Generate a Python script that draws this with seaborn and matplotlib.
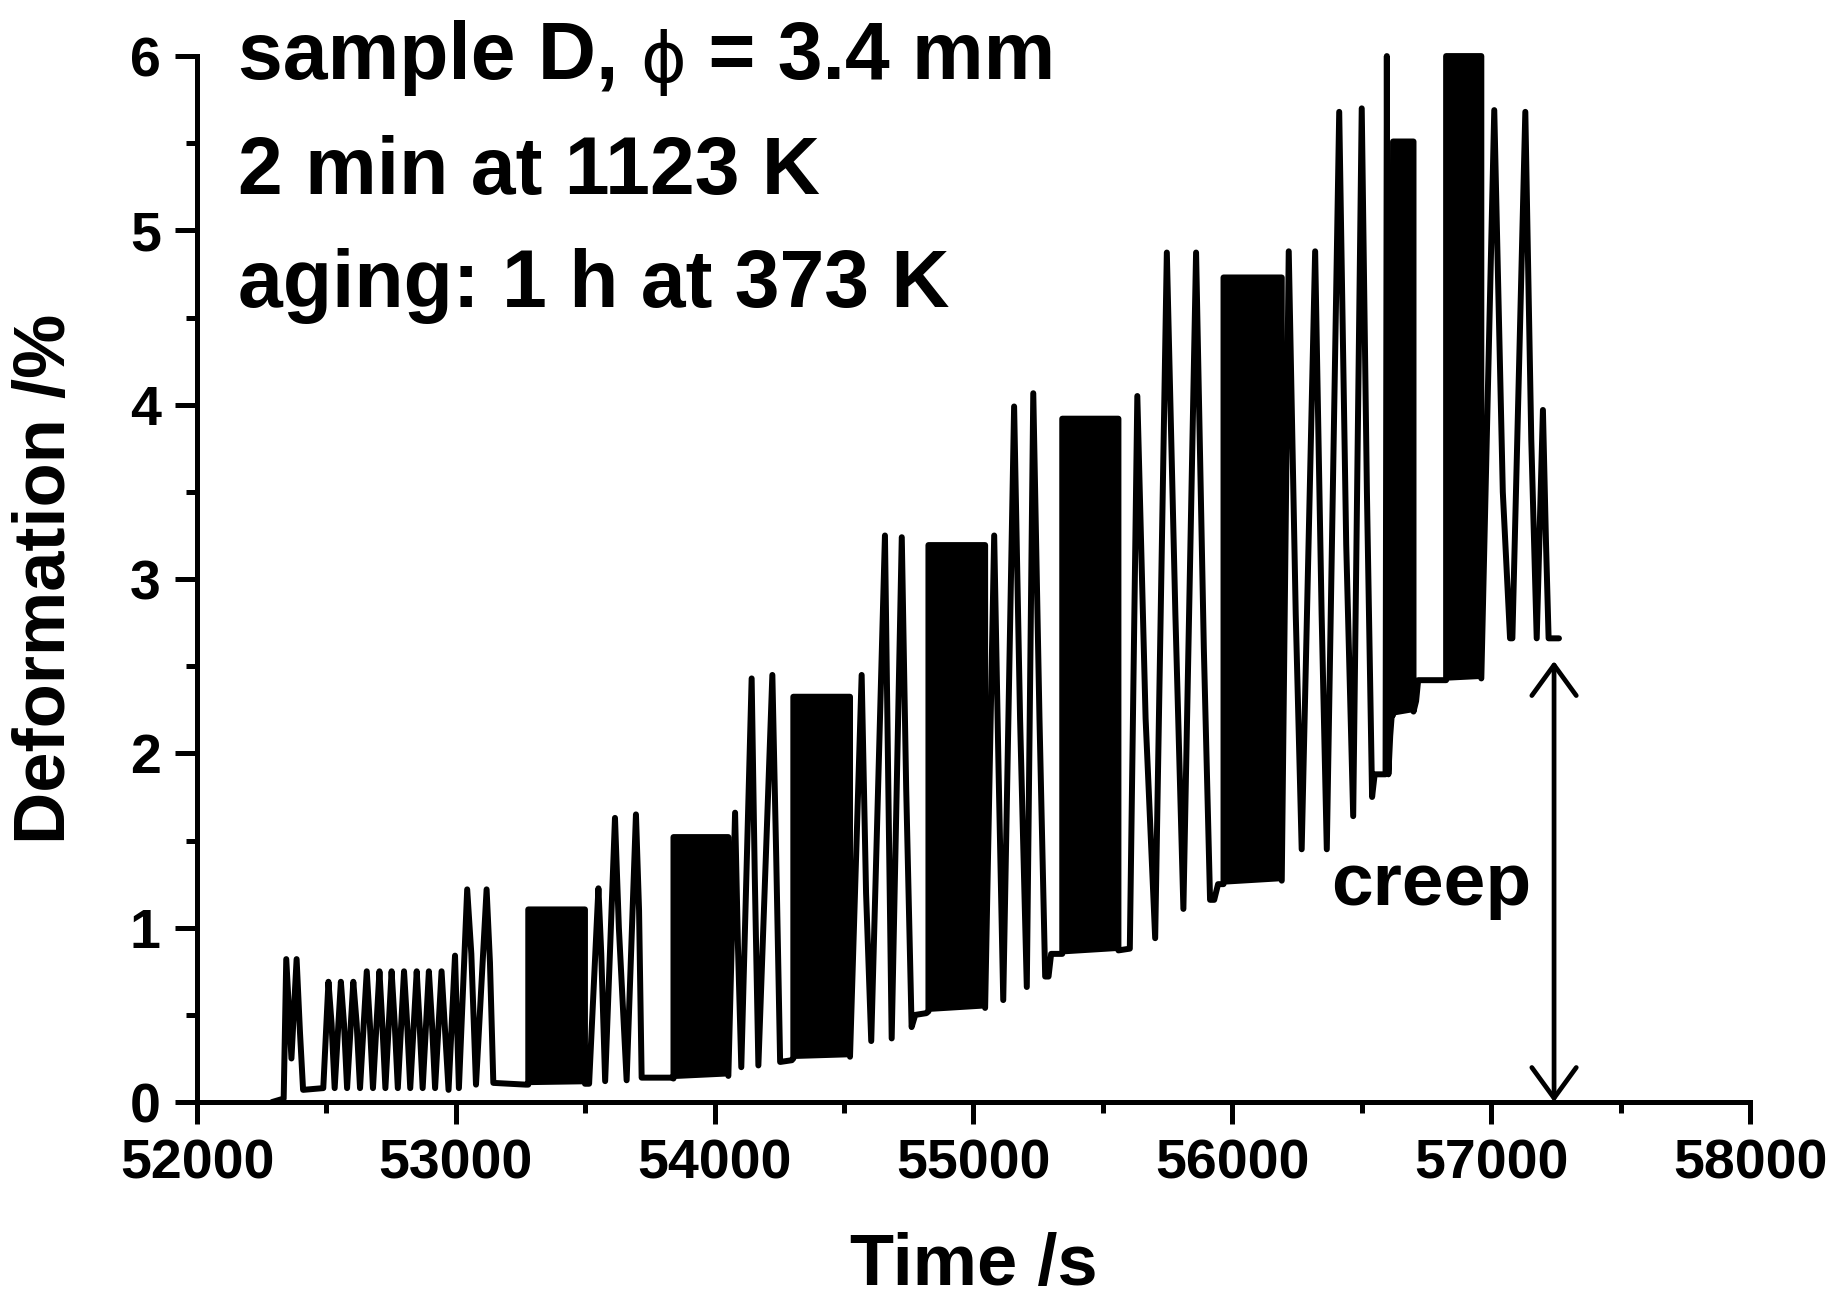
import numpy as np
import pandas as pd
import matplotlib
matplotlib.use("Agg")
import matplotlib.pyplot as plt
import seaborn as sns
from matplotlib.ticker import MultipleLocator

# ---- sparse parts of the deformation trace (time /s, deformation /%) ----
seg0_t = [52290, 52335, 52345, 52365, 52385, 52398, 52410, 52488,
          52508, 52520, 52532, 52556, 52568, 52580, 52604, 52617, 52630,
          52656, 52668, 52680, 52705, 52716, 52728, 52752, 52764, 52776,
          52800, 52812, 52824, 52849, 52860, 52872, 52896, 52908, 52920,
          52945, 52957, 52972, 52997, 53012, 53044, 53060, 53078, 53119,
          53132, 53145, 53270]
seg0_v = [0.00, 0.02, 0.82, 0.25, 0.82, 0.40, 0.07, 0.08,
          0.69, 0.45, 0.08, 0.69, 0.45, 0.08, 0.69, 0.45, 0.08,
          0.75, 0.45, 0.08, 0.75, 0.45, 0.08, 0.75, 0.45, 0.08,
          0.75, 0.45, 0.08, 0.75, 0.45, 0.08, 0.75, 0.45, 0.08,
          0.75, 0.45, 0.07, 0.84, 0.08, 1.22, 0.85, 0.10, 1.22,
          0.80, 0.11, 0.10]

seg1_t = [53515, 53551, 53562, 53577, 53615, 53630, 53660, 53696, 53708, 53718, 53832]
seg1_v = [0.105, 1.226, 0.85, 0.12, 1.63, 1.00, 0.125, 1.65, 1.10, 0.14, 0.14]

seg2_t = [54079, 54090, 54103, 54143, 54155, 54169, 54223, 54238, 54253, 54298]
seg2_v = [1.66, 0.90, 0.20, 2.43, 1.30, 0.21, 2.45, 1.40, 0.23, 0.24]

seg3_t = [54568, 54585, 54605, 54658, 54670, 54684, 54723, 54740, 54761, 54775, 54818]
seg3_v = [2.45, 1.20, 0.35, 3.25, 1.90, 0.365, 3.24, 1.80, 0.43, 0.50, 0.51]

seg4_t = [55080, 55097, 55115, 55157, 55180, 55206, 55231, 55255, 55277, 55290, 55300, 55336]
seg4_v = [3.25, 1.90, 0.585, 3.99, 2.20, 0.66, 4.066, 2.20, 0.72, 0.72, 0.85, 0.85]

seg5_t = [55604, 55633, 55665, 55702, 55747, 55780, 55811, 55860, 55890, 55914, 55930, 55945, 55960]
seg5_v = [0.88, 4.05, 2.20, 0.94, 4.873, 2.80, 1.108, 4.873, 2.60, 1.16, 1.16, 1.25, 1.25]

seg6_t = [56218, 56245, 56268, 56320, 56345, 56365, 56413, 56440, 56467, 56500,
          56520, 56540, 56550, 56592, 56597, 56603, 56610, 56616]
seg6_v = [4.88, 2.80, 1.45, 4.88, 2.80, 1.45, 5.68, 3.20, 1.64, 5.70,
          3.50, 1.75, 1.88, 1.88, 6.00, 1.88, 2.10, 2.22]

seg7_t = [56710, 56718, 56820]
seg7_v = [2.30, 2.42, 2.42]

seg8_t = [57012, 57045, 57073, 57082, 57132, 57155, 57176, 57200, 57212, 57222, 57262]
seg8_v = [5.69, 3.50, 2.66, 2.66, 5.68, 3.80, 2.66, 3.97, 3.20, 2.66, 2.66]

# ---- densely cycled intervals that render as solid blocks ----
block_start = [53280, 53841, 54304, 54826, 55343, 55966, 56621, 56826]
block_end = [53499, 54053, 54523, 55045, 55560, 56191, 56700, 56962]
block_low_start = [0.10, 0.135, 0.25, 0.52, 0.85, 1.25, 2.22, 2.42]
block_low_end = [0.105, 0.15, 0.26, 0.54, 0.87, 1.27, 2.24, 2.43]
block_top = [1.105, 1.52, 2.325, 3.195, 3.92, 4.73, 5.51, 6.00]

segments_t = [seg0_t, seg1_t, seg2_t, seg3_t, seg4_t, seg5_t, seg6_t, seg7_t, seg8_t]
segments_v = [seg0_v, seg1_v, seg2_v, seg3_v, seg4_v, seg5_v, seg6_v, seg7_v, seg8_v]

# x / y tick settings and annotation texts
x_ticks = [52000, 53000, 54000, 55000, 56000, 57000, 58000]
y_ticks = [0, 1, 2, 3, 4, 5, 6]
title_parts = ["sample D, ", "\u03d5", " = 3.4 mm"]
info_lines = ["2 min at 1123 K", "aging: 1 h at 373 K"]
creep_time = 57243
creep_level = 2.53

# assemble the full trace in time order
times, values = [], []
for i in range(len(segments_t)):
    times += segments_t[i]
    values += segments_v[i]
    if i < len(block_start):
        times += [block_start[i], block_start[i], block_end[i], block_end[i]]
        values += [block_low_start[i], block_top[i], block_top[i], block_low_end[i]]
trace = pd.DataFrame({"time": times, "deformation": values})

sns.set_theme(style="ticks")
plt.rcParams["font.family"] = ["Liberation Sans", "DejaVu Sans"]
plt.rcParams["font.weight"] = "bold"
for key in ["text.color", "axes.labelcolor", "xtick.color", "ytick.color", "axes.edgecolor"]:
    plt.rcParams[key] = "black"

fig = plt.figure(figsize=(18.39, 13.07), dpi=100)
fig.patch.set_facecolor("white")
ax = fig.add_axes([0.1071, 0.1568, 0.8445, 0.8003])
ax.set_facecolor("white")

sns.lineplot(data=trace, x="time", y="deformation", sort=False, estimator=None,
             color="black", linewidth=4.3, ax=ax)
for line in ax.lines:
    line.set_clip_on(False)

for s, e, l0, l1, top in zip(block_start, block_end, block_low_start, block_low_end, block_top):
    ax.fill_between([s, e], [l0, l1], [top, top], color="black", linewidth=0, clip_on=False)

ax.set_xlim(52000, 58000)
ax.set_ylim(0, 6)
ax.set_xticks(x_ticks)
ax.set_yticks(y_ticks)
ax.xaxis.set_minor_locator(MultipleLocator(500))
ax.yaxis.set_minor_locator(MultipleLocator(0.5))

for side in ["top", "right"]:
    ax.spines[side].set_visible(False)
for side in ["left", "bottom"]:
    ax.spines[side].set_linewidth(3.6)
    ax.spines[side].set_color("black")

ax.tick_params(which="major", direction="out", length=16, width=3.6, color="black",
               labelcolor="black", labelsize=40, pad=10)
ax.tick_params(which="minor", direction="out", length=8, width=3.6, color="black")
for lab in ax.get_xticklabels() + ax.get_yticklabels():
    lab.set_fontweight("bold")

ax.set_xlabel("Time /s", fontsize=52, fontweight="bold", labelpad=30, color="black")
ax.set_ylabel("Deformation /%", fontsize=52, fontweight="bold", labelpad=36, color="black")

# first info line: bold text with a plain-weight phi in between
t1 = ax.text(52158, 5.87, title_parts[0], fontsize=58, fontweight="bold",
             ha="left", va="baseline", color="black", clip_on=False)
t2 = ax.annotate(title_parts[1], xy=(1, 0), xycoords=t1, ha="left", va="bottom",
                 fontsize=50, fontweight="normal", family=["DejaVu Sans"], color="black")
t3 = ax.annotate(title_parts[2], xy=(1, 0), xycoords=t2, ha="left", va="bottom",
                 fontsize=58, fontweight="bold", color="black")

baselines = [5.21, 4.56]
for txt, yb in zip(info_lines, baselines):
    ax.text(52158, yb, txt, fontsize=58, fontweight="bold", ha="left", va="baseline",
            color="black", clip_on=False)

ax.text(56382, 1.245, "creep", fontsize=54, fontweight="bold", ha="left", va="center",
        color="black")

ax.annotate("", xy=(creep_time, 0.0), xytext=(creep_time, creep_level),
            arrowprops=dict(arrowstyle="<->,head_length=0.55,head_width=0.4",
                            mutation_scale=40, lw=3.4, color="black",
                            shrinkA=0, shrinkB=0))

fig.savefig("out.png", dpi=100, facecolor="white")
